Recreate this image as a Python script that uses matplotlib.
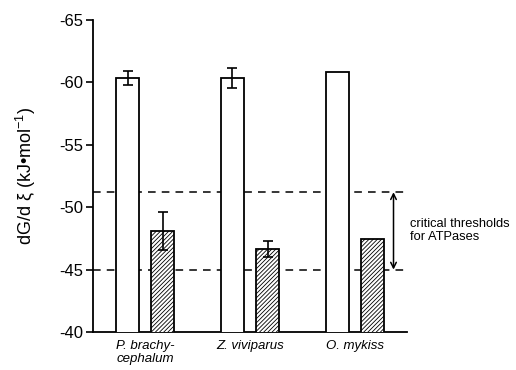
import matplotlib
matplotlib.use("Agg")
import matplotlib.pyplot as plt
import numpy as np

plt.rcParams['font.family'] = ['Liberation Sans', 'DejaVu Sans']
plt.rcParams['mathtext.fontset'] = 'custom'
plt.rcParams['mathtext.rm'] = 'Liberation Sans'
plt.rcParams['mathtext.it'] = 'Liberation Sans:italic'
plt.rcParams['hatch.linewidth'] = 0.6

species = ["P. brachy-\ncephalum", "Z. viviparus", "O. mykiss"]
open_vals = [-60.38, -60.38, -60.82]
open_err = [0.57, 0.81, 0.0]
hatched_vals = [-48.1, -46.63, -47.43]
hatched_err = [1.55, 0.65, 0.0]
thresholds = [-51.2, -45.0]

fig = plt.figure(figsize=(5.16, 3.70), dpi=100)
ax = fig.add_axes([0.180, 0.1027, 0.609, 0.8433])

x = np.arange(len(species))
w = 0.222
off = 0.168
ax.bar(x - off, open_vals, w, facecolor='white', edgecolor='black', linewidth=1.3, zorder=3)
ax.bar(x + off, hatched_vals, w, facecolor='white', edgecolor='black', linewidth=1.3,
       hatch='////////', zorder=3)
for xi, v, e in zip(x - off, open_vals, open_err):
    if e > 0:
        ax.errorbar(xi, v, yerr=e, fmt='none', ecolor='black', elinewidth=1.2, capsize=3.5,
                    capthick=1.2, zorder=4)
for xi, v, e in zip(x + off, hatched_vals, hatched_err):
    if e > 0:
        ax.errorbar(xi, v, yerr=e, fmt='none', ecolor='black', elinewidth=1.2, capsize=3.5,
                    capthick=1.2, zorder=4)

for t in thresholds:
    ax.axhline(t, color='black', linestyle=(0, (5, 4)), linewidth=1.1, zorder=2)

ax.set_xlim(-0.5, 2.5)
ax.set_ylim(-40, -65)
ax.set_yticks([-40, -45, -50, -55, -60, -65])
ax.set_yticklabels(['-40', '-45', '-50', '-55', '-60', '-65'], fontsize=12)
ax.set_xticks(x)
ax.set_xticklabels(species, fontsize=9.5, style='italic', va='top', linespacing=1.05)
ax.tick_params(axis='x', length=0, pad=6)
ax.tick_params(axis='y', direction='out', length=5, width=1.2, pad=2)
for s in ['top', 'right']:
    ax.spines[s].set_visible(False)
for s in ['left', 'bottom']:
    ax.spines[s].set_linewidth(1.3)

ax.set_ylabel('dG/d ξ (kJ•mol$^{\\mathrm{-1}}$)', fontsize=13, labelpad=15)

ax.annotate('', xy=(2.37, thresholds[0]), xytext=(2.37, thresholds[1]),
            xycoords='data',
            arrowprops=dict(arrowstyle='<->', color='black', lw=1.1,
                            mutation_scale=10, shrinkA=0, shrinkB=0),
            annotation_clip=False)
ax.text(2.53, (thresholds[0] + thresholds[1]) / 2, 'critical thresholds\nfor ATPases',
        fontsize=9.3, va='center', ha='left', clip_on=False, linespacing=1.1)

fig.savefig('out.png', dpi=100)
